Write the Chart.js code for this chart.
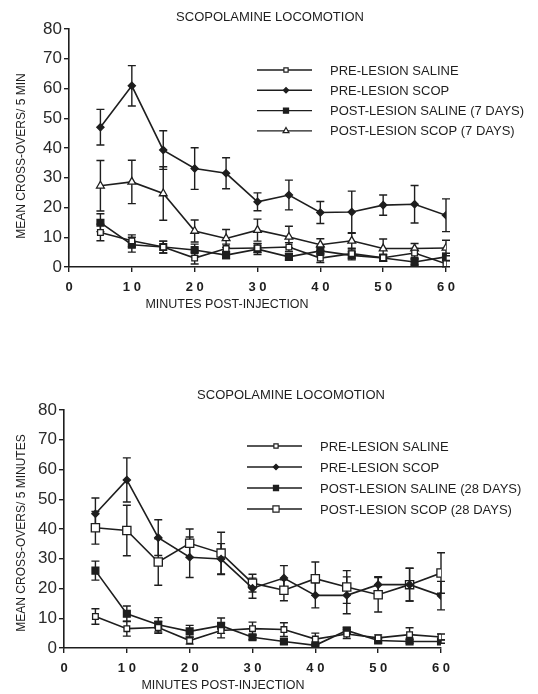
<!DOCTYPE html>
<html lang="en">
<head>
  <meta charset="UTF-8">
  <title>Scopolamine Locomotion</title>
  <script src="https://cdn.jsdelivr.net/npm/chart.js"></script>
  <style>
    body { margin: 0; background: #fff; }
    .box { position: absolute; left: 0; width: 538px; }
    #top { top: 0; height: 320px; }
    #bottom { top: 370px; height: 324px; }
  </style>
</head>
<body>
  <div class="box" id="top"><canvas id="chart7"></canvas></div>
  <div class="box" id="bottom"><canvas id="chart28"></canvas></div>

<script>
const minutes = [5, 10, 15, 20, 25, 30, 35, 40, 45, 50, 55, 60];
const yTicks = [0, 10, 20, 30, 40, 50, 60, 70, 80];
const xTicks = [0, 10, 20, 30, 40, 50, 60];

// 7 days
const preSaline7 = [11.6, 8.8, 6.7, 3.0, 6.2, 6.4, 6.7, 3.0, 4.5, 3.1, 4.7, 1.1];
const preSaline7Err = [2.8, 2.0, 2.0, 2.0, 1.5, 1.5, 1.5, 1.5, 1.5, 1.2, 1.5, 1.0];
const preScop7 = [47, 60.9, 39.3, 33.1, 31.5, 21.9, 24.2, 18.3, 18.5, 20.8, 21.1, 17.4];
const preScop7Err = [6, 6.8, 6.5, 7, 5.2, 3, 5, 3.7, 7, 3.4, 6.3, 5.5];
const postSaline7 = [14.9, 7.5, 6.7, 5.7, 4.0, 6.0, 3.4, 5.4, 3.9, 3.0, 1.7, 3.4];
const postSaline7Err = [3.0, 2.5, 2.0, 2.0, 1.2, 1.8, 1.0, 1.5, 1.5, 1.0, 1.0, 1.2];
const postScop7 = [27.3, 28.6, 24.7, 12.1, 9.6, 12.4, 10.1, 7.5, 8.8, 6.2, 6.2, 6.4];
const postScop7Err = [8.5, 7.3, 9, 3.7, 3, 3.7, 3.6, 2, 2.5, 3.2, 1.7, 2.6];

// 28 days
const preSaline28 = [10.6, 6.5, 6.9, 2.5, 5.9, 6.5, 6.2, 3.0, 4.7, 3.4, 4.5, 3.7];
const preSaline28Err = [2.6, 2.5, 2.0, 1.2, 2.5, 2.2, 2.3, 2.0, 1.5, 1.0, 2.3, 1.0];
const preScop28 = [45.1, 56.5, 37.1, 30.5, 29.9, 20.1, 23.5, 17.7, 17.7, 21.3, 21.3, 17.6];
const preScop28Err = [5.3, 7.4, 6, 6.8, 5.2, 3.4, 4.2, 4.2, 6.2, 2.7, 5.5, 4.8];
const postSaline28 = [26, 11.5, 7.8, 5.6, 7.5, 3.6, 2.2, 0.9, 5.9, 2.5, 2.2, 2.2];
const postSaline28Err = [3.2, 2.6, 2.4, 2.0, 2.6, 0.8, 0.8, 0.6, 1.0, 0.8, 0.6, 0.6];
const postScop28 = [40.4, 39.5, 28.9, 35.2, 31.9, 21.8, 19.4, 23.3, 20.5, 17.9, 21.3, 25.2];
const postScop28Err = [5.5, 8.5, 7.8, 4.8, 7, 3, 3.5, 5.6, 5.5, 5.8, 5.5, 6.8];

const ink = '#1e1e1e';

function series(label, values, err, style, radius, fill, rot) {
  return {
    label: label,
    data: minutes.map((m, i) => ({ x: m, y: values[i] })),
    err: err,
    borderColor: ink,
    borderWidth: 1.6,
    pointStyle: style,
    pointRadius: radius,
    pointRotation: rot || 0,
    pointBackgroundColor: fill,
    pointBorderColor: ink,
    pointBorderWidth: 1.3,
    tension: 0
  };
}

// error bars drawn through the chart's own scales
const errorBars = {
  id: 'errorBars',
  beforeDatasetsDraw(chart) {
    const ctx = chart.ctx, xs = chart.scales.x, ys = chart.scales.y;
    ctx.save();
    ctx.strokeStyle = ink;
    ctx.lineWidth = 1.4;
    chart.data.datasets.forEach(ds => {
      ds.data.forEach((p, i) => {
        const e = ds.err[i];
        const x = xs.getPixelForValue(p.x);
        const lo = ys.getPixelForValue(Math.max(0, p.y - e));
        const hi = ys.getPixelForValue(p.y + e);
        ctx.beginPath();
        ctx.moveTo(x, lo); ctx.lineTo(x, hi);
        ctx.moveTo(x - 4, lo); ctx.lineTo(x + 4, lo);
        ctx.moveTo(x - 4, hi); ctx.lineTo(x + 4, hi);
        ctx.stroke();
      });
    });
    ctx.restore();
  }
};

// title, axis titles and the in-plot legend
const decorations = {
  id: 'decorations',
  afterDraw(chart) {
    const o = chart.options.plugins.decorations;
    const ctx = chart.ctx;
    ctx.save();
    ctx.fillStyle = ink;
    ctx.textBaseline = 'middle';
    ctx.textAlign = 'center';
    ctx.font = '13px "Liberation Sans", Arial, sans-serif';
    ctx.fillText(o.title, o.titleX, o.titleY);
    ctx.font = '12.5px "Liberation Sans", Arial, sans-serif';
    ctx.fillText(o.xTitle, o.xTitleX, o.xTitleY);
    ctx.save();
    ctx.translate(o.yTitleX, o.yTitleY);
    ctx.rotate(-Math.PI / 2);
    ctx.font = '12px "Liberation Sans", Arial, sans-serif';
    ctx.fillText(o.yTitle, 0, 0);
    ctx.restore();

    ctx.textAlign = 'left';
    ctx.font = '13px "Liberation Sans", Arial, sans-serif';
    chart.data.datasets.forEach((ds, i) => {
      const y = o.legendY + i * o.legendGap;
      ctx.strokeStyle = ink;
      ctx.lineWidth = 1.4;
      ctx.beginPath();
      ctx.moveTo(o.legendX, y); ctx.lineTo(o.legendX + 55, y);
      ctx.stroke();
      ctx.fillStyle = ds.pointBackgroundColor;
      ctx.lineWidth = 1.2;
      Chart.helpers.drawPoint(ctx, {
        pointStyle: ds.pointStyle, rotation: ds.pointRotation,
        radius: ds.pointRadius * 0.75, borderWidth: 1.2
      }, o.legendX + 29, y);
      ctx.fillStyle = ink;
      ctx.fillText(ds.label, o.legendX + 73, y + 1);
    });
    ctx.restore();
  }
};

function spaced(v) { return String(v).split('').join(' '); }

function makeChart(id, datasets, pad, deco) {
  return new Chart(document.getElementById(id), {
    type: 'line',
    data: { datasets: datasets },
    plugins: [errorBars, decorations],
    options: {
      responsive: true,
      maintainAspectRatio: false,
      animation: false,
      layout: { padding: pad },
      plugins: {
        legend: { display: false },
        tooltip: { enabled: false },
        decorations: deco
      },
      scales: {
        x: {
          type: 'linear', min: 0, max: 60,
          afterBuildTicks: s => { s.ticks = xTicks.map(v => ({ value: v })); },
          afterFit: s => { s.height = deco.xHeight; },
          grid: { drawOnChartArea: false, drawTicks: true, tickLength: 5, color: ink, lineWidth: 1.4 },
          border: { display: true, color: ink, width: 1.6 },
          ticks: {
            color: ink, padding: 8, maxRotation: 0,
            font: { family: '"Liberation Sans", Arial, sans-serif', size: 13, weight: 'bold' },
            callback: v => spaced(v)
          }
        },
        y: {
          min: 0, max: 80,
          afterBuildTicks: s => { s.ticks = yTicks.map(v => ({ value: v })); },
          afterFit: s => { s.width = deco.yWidth; },
          grid: { drawOnChartArea: false, drawTicks: true, tickLength: 5, color: ink, lineWidth: 1.4 },
          border: { display: true, color: ink, width: 1.6 },
          ticks: {
            color: '#2a2a2a', padding: 2,
            font: { family: '"Liberation Sans", Arial, sans-serif', size: 17 }
          }
        }
      }
    }
  });
}

makeChart('chart7', [
  series('PRE-LESION SALINE', preSaline7, preSaline7Err, 'rect', 4, '#fff'),
  series('PRE-LESION SCOP', preScop7, preScop7Err, 'rectRot', 3.6, ink),
  series('POST-LESION SALINE (7 DAYS)', postSaline7, postSaline7Err, 'rect', 4.8, ink),
  series('POST-LESION SCOP (7 DAYS)', postScop7, postScop7Err, 'triangle', 4.5, '#fff')
], { left: 0, right: 92, top: 29, bottom: 0 }, {
  title: 'SCOPOLAMINE LOCOMOTION', titleX: 270, titleY: 17,
  xTitle: 'MINUTES POST-INJECTION', xTitleX: 227, xTitleY: 305,
  yTitle: 'MEAN CROSS-OVERS/ 5 MIN', yTitleX: 22, yTitleY: 156,
  legendX: 257, legendY: 70, legendGap: 20.3,
  xHeight: 53, yWidth: 69
});

makeChart('chart28', [
  series('PRE-LESION SALINE', preSaline28, preSaline28Err, 'rect', 4, '#fff'),
  series('PRE-LESION SCOP', preScop28, preScop28Err, 'rectRot', 3.6, ink),
  series('POST-LESION SALINE (28 DAYS)', postSaline28, postSaline28Err, 'rect', 4.8, ink),
  series('POST-LESION SCOP (28 DAYS)', postScop28, postScop28Err, 'rect', 5.8, '#fff')
], { left: 0, right: 97, top: 40, bottom: 0 }, {
  title: 'SCOPOLAMINE LOCOMOTION', titleX: 291, titleY: 25,
  xTitle: 'MINUTES POST-INJECTION', xTitleX: 223, xTitleY: 316,
  yTitle: 'MEAN CROSS-OVERS/ 5 MINUTES', yTitleX: 22, yTitleY: 163,
  legendX: 247, legendY: 76, legendGap: 21,
  xHeight: 46, yWidth: 64
});
</script>
</body>
</html>
